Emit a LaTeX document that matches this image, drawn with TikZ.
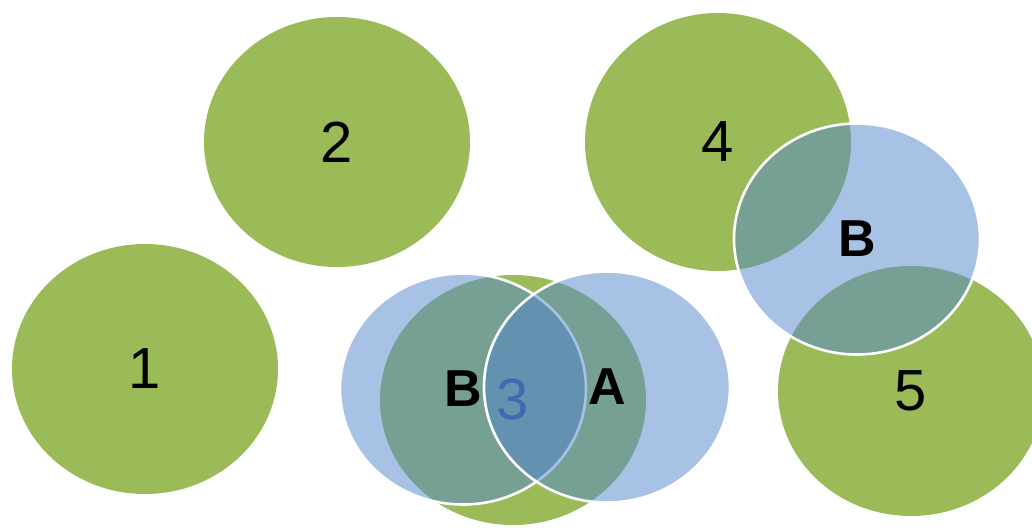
\documentclass[tikz,border=0pt]{standalone}
\usepackage{fontspec}
\setmainfont{Liberation Sans}
\usetikzlibrary{shapes.geometric}

\begin{document}
\begin{tikzpicture}[x=1pt,y=-1pt]
        % Define colors - office green discs, see-through blue sets
        \definecolor{leafgreen}{RGB}{155,187,89}
        \definecolor{setblue}{RGB}{82,134,206}
        \definecolor{digitblue}{RGB}{62,106,176}

        \tikzset{
            greendisc/.style={ellipse, fill=leafgreen, inner sep=0pt,
                minimum width=266pt, minimum height=250pt,
                font=\fontsize{58}{58}\selectfont},
            bluedisc/.style={ellipse, fill=setblue, fill opacity=0.5,
                draw=white, draw opacity=1, line width=2.6pt, text opacity=1,
                inner sep=0pt, minimum width=246pt, minimum height=231pt,
                font=\bfseries\fontsize{52}{52}\selectfont}
        }

        % Canvas
        \useasboundingbox (0,0) rectangle (1032,527);
        \clip (0,0) rectangle (1032,527);

        % Green discs 1 to 5
        \node[greendisc] (c1) at (145,369) {1};
        \node[greendisc] (c2) at (337,142) {2};
        \node[greendisc] (c3) at (513,400) {};
        \node[greendisc, minimum height=258pt] (c4) at (718,142) {4};
        \node[greendisc] (c5) at (911,391) {5};

        % Blue sets over disc 3
        \node[bluedisc] (b3) at (463,389) {B};
        \node[bluedisc] (a3) at (607,387) {A};

        % Blue set between discs 4 and 5
        \node[bluedisc] (b45) at (857,239) {B};

        % Label of disc 3, on top of the sets
        \node[font=\fontsize{58}{58}\selectfont, text=digitblue] (n3) at (c3.center) {3};
    \end{tikzpicture}
\end{document}
